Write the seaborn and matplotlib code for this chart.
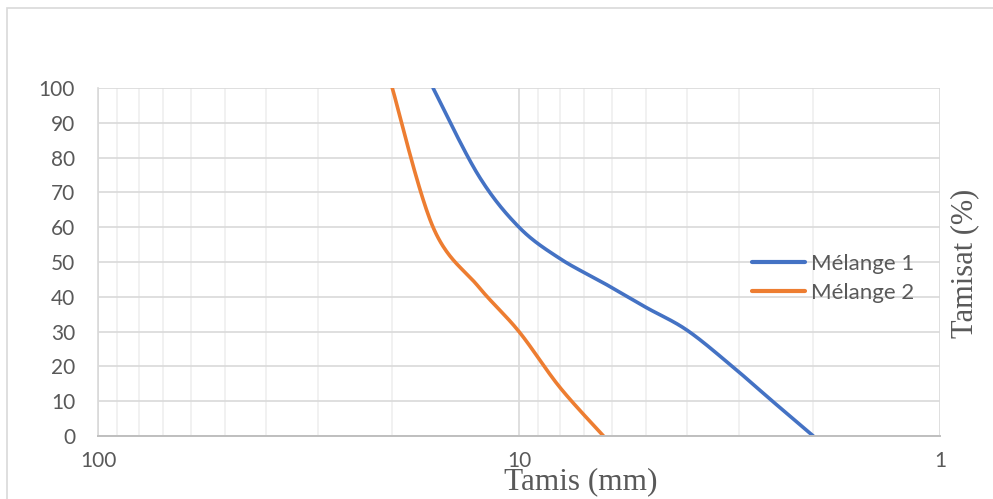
import numpy as np
import pandas as pd
import matplotlib
matplotlib.use("Agg")
import matplotlib.pyplot as plt
from matplotlib.patches import Rectangle
from matplotlib.ticker import FixedLocator, NullFormatter
import seaborn as sns

# Sieve openings (mm) and passing percentages
tamis_m1 = [16, 12.5, 10, 8, 6.3, 5, 4, 3.15, 2.5, 2]
passant_m1 = [100, 75, 60, 51, 44, 37, 30.5, 20.5, 10, 0]
tamis_m2 = [20, 16, 12.5, 10, 8, 6.3]
passant_m2 = [100, 60, 43, 30, 14, 0]
series_names = ["Mélange 1", "Mélange 2"]
series_colors = ["#4472C4", "#ED7D31"]
x_ticks = [100, 10, 1]
x_tick_labels = ["100", "10", "1"]
y_ticks = list(range(0, 101, 10))


def smooth_curve(xs, ys, n=40):
    """Cardinal (Catmull-Rom) smoothing in log10(x) space."""
    u = np.log10(np.asarray(xs, float))
    v = np.asarray(ys, float)
    pts = np.column_stack([u, v])
    p = np.vstack([pts[0], pts, pts[-1]])
    out = []
    t = np.linspace(0, 1, n, endpoint=False)[:, None]
    for i in range(1, len(p) - 2):
        p0, p1, p2, p3 = p[i - 1], p[i], p[i + 1], p[i + 2]
        c1 = p1 + (p2 - p0) / 6.0
        c2 = p2 - (p3 - p1) / 6.0
        seg = ((1 - t) ** 3) * p1 + 3 * ((1 - t) ** 2) * t * c1 + 3 * (1 - t) * t ** 2 * c2 + t ** 3 * p2
        out.append(seg)
    out.append(pts[-1][None, :])
    arr = np.vstack(out)
    return 10 ** arr[:, 0], arr[:, 1]


frames = []
for name, xs, ys in [(series_names[0], tamis_m1, passant_m1),
                     (series_names[1], tamis_m2, passant_m2)]:
    sx, sy = smooth_curve(xs, ys)
    frames.append(pd.DataFrame({"Tamis": sx, "Tamisat": sy, "Série": name}))
data = pd.concat(frames, ignore_index=True)

sns.set_theme(style="white")
plt.rcParams["font.family"] = ["Lato", "DejaVu Sans"]

W, H = 993, 499
fig = plt.figure(figsize=(W / 100, H / 100), dpi=100)

# Outer chart frame
fig.patches.append(Rectangle((7 / W, 1 - 520 / H), 1100 / W, (520 - 8) / H,
                             transform=fig.transFigure, fill=False,
                             edgecolor="#D9D9D9", linewidth=1.2, zorder=0))

ax = fig.add_axes([98 / W, 1 - 436 / H, 842 / W, 348 / H])

sns.lineplot(data=data, x="Tamis", y="Tamisat", hue="Série", sort=False,
             estimator=None, units="Série", palette=series_colors,
             linewidth=2.6, ax=ax, legend=True)

ax.set_xscale("log")
ax.set_xlim(100, 1)
ax.set_ylim(0, 100)

minor = [m * d for d in (1, 10) for m in range(2, 10)]
ax.xaxis.set_major_locator(FixedLocator(x_ticks))
ax.xaxis.set_minor_locator(FixedLocator(minor))
ax.xaxis.set_minor_formatter(NullFormatter())
ax.set_xticks(x_ticks)
ax.set_xticklabels(x_tick_labels)
ax.set_yticks(y_ticks)

ax.grid(True, which="major", axis="both", color="#D9D9D9", linewidth=1.2)
ax.grid(True, which="minor", axis="x", color="#EFEFEF", linewidth=1.2)
ax.set_axisbelow(True)

for side in ["top", "right"]:
    ax.spines[side].set_visible(False)
ax.spines["left"].set_color("#D9D9D9")
ax.spines["left"].set_linewidth(1.2)
ax.spines["bottom"].set_color("#BFBFBF")
ax.spines["bottom"].set_linewidth(1.4)

ax.tick_params(axis="both", which="both", length=0, labelsize=15,
               labelcolor="#595959")
ax.tick_params(axis="y", pad=16.5)
ax.tick_params(axis="x", pad=11)

ax.set_xlabel("")
ax.set_ylabel("")
fig.text(581 / W, 1 - 482 / H, "Tamis (mm)", ha="center", va="center",
         family="Liberation Serif", fontsize=22.5, color="#595959")
fig.text(965 / W, 1 - 263 / H, "Tamisat (%)", ha="center", va="center",
         rotation=90, family="Liberation Serif", fontsize=22, color="#595959")

leg = ax.legend(loc="center left", bbox_to_anchor=(752 / W, 1 - 278.5 / H),
                bbox_transform=fig.transFigure, frameon=False,
                fontsize=16, handlelength=2.4, handletextpad=0.25,
                labelspacing=0.43, borderaxespad=0, borderpad=0)
for t in leg.get_texts():
    t.set_color("#595959")
for line in leg.get_lines():
    line.set_linewidth(3)

fig.savefig("out.png", dpi=100)
